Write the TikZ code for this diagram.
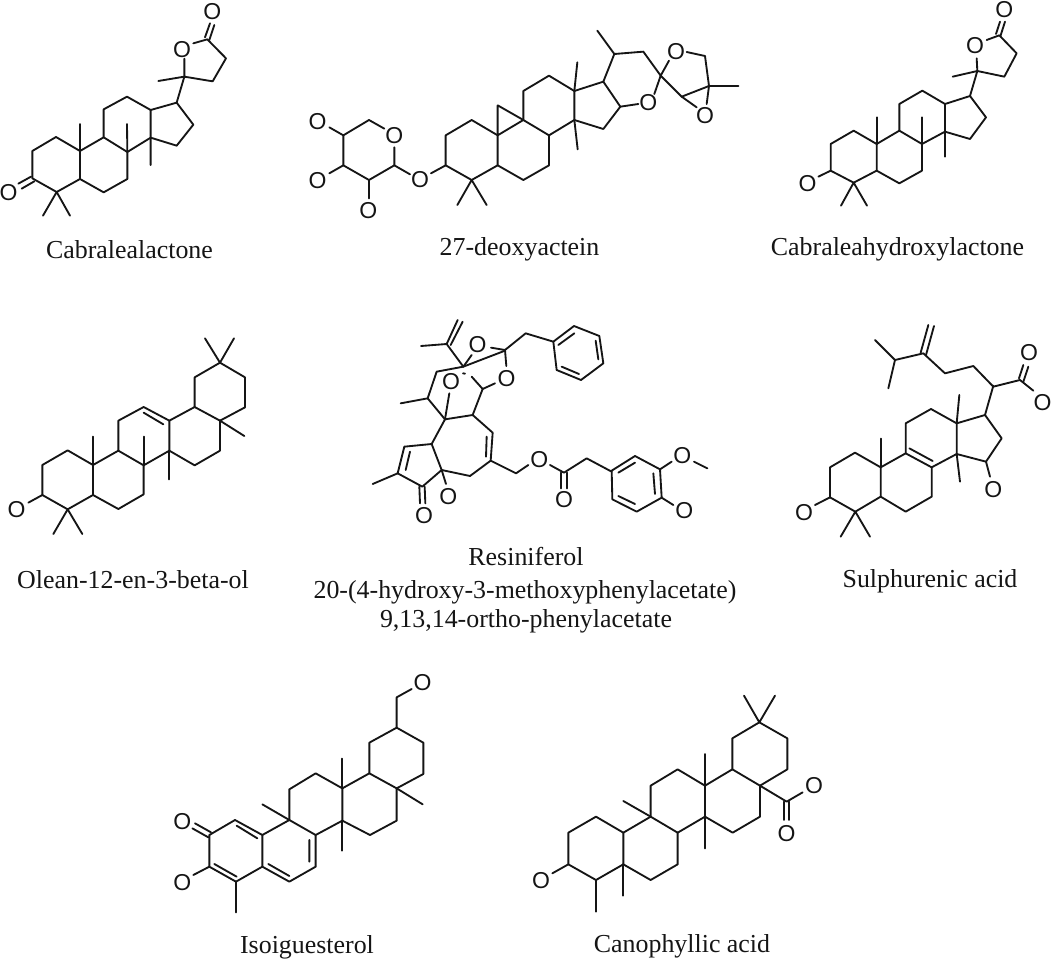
\documentclass[tikz,border=0pt]{standalone}
\usepackage{fontspec}
\setmainfont{Liberation Serif}
\newfontfamily\atomfont{Liberation Sans}
\tikzset{
  x=1pt,y=-1pt,
  bond/.style={draw=inkblack,line width=1.85pt,line join=round,line cap=round},
  atom/.style={inner sep=0pt,text=inkblack,font=\atomfont\fontsize{23}{23}\selectfont},
  caption/.style={anchor=base,inner sep=0pt,text=inkblack,font=\fontsize{25.9}{30}\selectfont},
  zoomed/.style={shift={#1},scale=0.33333}
}
\definecolor{inkblack}{HTML}{151515}
\begin{document}
\begin{tikzpicture}
\fill[white] (0,0) rectangle (1052,961);
\useasboundingbox (0,0) rectangle (1052,961);

% Cabralealactone
\begin{scope}[zoomed={(0,0)}]
\draw[bond] (97,453)--(168,411)--(240,453)--(240,537)--(170,576)--(97,535)--cycle;
\draw[bond] (93,530)--(55,551) (103,544)--(65,566);
\draw[bond] (129,647)--(170,576)--(210,647);
\draw[bond] (240,453)--(240,372);
\draw[bond] (240,453)--(311,412)--(382,456)--(382,537)--(311,577)--(240,537);
\draw[bond] (311,412)--(311,328)--(381,290)--(452,330)--(452,413)--(382,456);
\draw[bond] (382,456)--(381,372) (452,413)--(452,495);
\draw[bond] (452,330)--(530,308)--(580,374)--(530,437)--(452,413);
\draw[bond] (530,308)--(553,230)--(475,243);
\draw[bond] (553,176)--(553,230)--(638,244)--(678,175)--(622,118)--(580,130);
\draw[bond] (615,112)--(630,70) (628,120)--(643,75);
\node[atom] (a1) at (546,149) {O};
\node[atom] (a2) at (637,36) {O};
\node[atom] (a3) at (26,578) {O};
\end{scope}
\node[caption] (c1) at (129.5,258) {Cabralealactone};

% 27-deoxyactein
\begin{scope}[zoomed={(295,30)}]
\draw[bond] (103,292)--(145,316)--(222,270)--(268,296);
\draw[bond] (298,352)--(298,406)--(222,450)--(145,406)--(145,316);
\draw[bond] (145,406)--(103,430) (222,450)--(222,505) (298,406)--(345,433) (408,430)--(452,406);
\draw[bond] (452,406)--(452,316)--(530,270)--(608,316)--(608,406)--(530,450)--cycle;
\draw[bond] (487,525)--(530,450)--(575,525);
\draw[bond] (608,406)--(685,450)--(762,406)--(762,316)--(685,270)--(608,316)--(608,226)--(685,270);
\draw[bond] (685,270)--(685,183)--(762,137)--(838,183)--(838,270)--(762,316);
\draw[bond] (847,97)--(838,183) (838,270)--(848,358);
\draw[bond] (838,183)--(925,155)--(976,230)--(925,297)--(838,270);
\draw[bond] (976,230)--(1030,222) (1078,192)--(1097,137);
\draw[bond] (907,2)--(958,72);
\draw[bond] (925,155)--(958,72)--(1045,65)--(1097,137)--(1122,92);
\draw[bond] (1175,66)--(1230,78)--(1242,168)--(1160,200)--(1097,137);
\draw[bond] (1242,168)--(1330,168) (1242,168)--(1235,222) (1160,200)--(1205,232);
\node[atom] (b1) at (68,276) {O};
\node[atom] (b2) at (298,318) {O};
\node[atom] (b3) at (68,451) {O};
\node[atom] (b4) at (220,541) {O};
\node[atom] (b5) at (375,450) {O};
\node[atom] (b6) at (1060,218) {O};
\node[atom] (b7) at (1143,66) {O};
\node[atom] (b8) at (1230,258) {O};
\end{scope}
\node[caption] (c2) at (519.5,255) {27-deoxyactein};

% Cabraleahydroxylactone
\begin{scope}[zoomed={(760,0)}]
\draw[bond] (212,512)--(212,432)--(281,392)--(350,432)--(350,512)--(281,548)--cycle;
\draw[bond] (212,512)--(175,530);
\draw[bond] (243,617)--(281,548)--(321,617);
\draw[bond] (350,432)--(350,352);
\draw[bond] (350,432)--(418,392)--(486,432)--(486,512)--(418,550)--(350,512);
\draw[bond] (418,392)--(418,312)--(487,272)--(555,312)--(555,395)--(486,432);
\draw[bond] (486,432)--(486,352) (555,395)--(555,470);
\draw[bond] (555,312)--(630,288)--(678,352)--(630,417)--(555,395);
\draw[bond] (630,288)--(652,213)--(578,230);
\draw[bond] (650,175)--(652,213)--(733,230)--(770,160)--(718,106)--(680,120);
\draw[bond] (708,102)--(720,65) (722,106)--(735,65);
\node[atom] (d1) at (143,552) {O};
\node[atom] (d2) at (645,137) {O};
\node[atom] (d3) at (733,28) {O};
\end{scope}
\node[caption] (c3) at (897.5,255) {Cabraleahydroxylactone};

% Olean-12-en-3-beta-ol
\begin{scope}[zoomed={(0,330)}]
\draw[bond] (127,495)--(127,405)--(203,361)--(279,405)--(279,495)--(203,538)--cycle;
\draw[bond] (127,495)--(85,518);
\draw[bond] (160,612)--(203,538)--(247,612);
\draw[bond] (279,405)--(279,320);
\draw[bond] (279,405)--(355,362)--(431,406)--(431,493)--(355,537)--(279,495);
\draw[bond] (355,362)--(355,272)--(431,231)--(508,272)--(508,362)--(431,406);
\draw[bond] (431,248)--(490,283);
\draw[bond] (431,406)--(431,320) (508,362)--(508,448);
\draw[bond] (508,272)--(584,231)--(660,272)--(660,362)--(584,406)--(508,362);
\draw[bond] (584,231)--(584,142)--(660,98)--(735,142)--(735,232)--(660,272);
\draw[bond] (660,272)--(733,318);
\draw[bond] (615,25)--(660,98)--(702,25);
\node[atom] (e1) at (50,538) {O};
\end{scope}
\node[caption] (c4) at (133,588) {Olean-12-en-3-beta-ol};

% Resiniferol: core
\begin{scope}[zoomed={(360,330)}]
\draw[bond] (183,48)--(260,42)--(310,110)--(230,125)--(203,205)--(255,268);
\draw[bond] (203,205)--(122,220);
\draw[bond] (255,268)--(338,255)--(398,308)--(392,392)--(330,438)--(245,420)--(215,342)--cycle;
\draw[bond] (380,320)--(378,380);
\draw[bond] (255,268)--(268,190);
\draw[bond] (310,110)--(435,62);
\draw[bond] (338,255)--(368,177)--(405,160);
\draw[bond] (368,177)--(335,140);
\draw[bond] (309,130)--(315,131);
\draw[bond] (215,342)--(133,350)--(113,430)--(187,470)--(245,420);
\draw[bond] (150,365)--(137,420);
\draw[bond] (113,430)--(38,462);
\draw[bond] (178,470)--(180,520) (194,470)--(196,520);
\draw[bond] (245,420)--(258,462);
\draw[bond] (392,392)--(468,430)--(505,405);
\draw[bond] (570,405)--(612,428)--(680,385)--(755,425);
\draw[bond] (604,428)--(604,475) (620,428)--(620,475);
\node[atom] (f1) at (273,155) {O};
\node[atom] (f2) at (440,147) {O};
\node[atom] (f3) at (192,556) {O};
\node[atom] (f4) at (265,500) {O};
\node[atom] (f5) at (538,388) {O};
\node[atom] (f6) at (612,510) {O};
\end{scope}
% Resiniferol: top
\begin{scope}[zoomed={(430,300)}]
\draw[bond] (50,132)--(83,60) (62,135)--(98,65);
\draw[bond] (100,200)--(125,165) (183,143)--(225,150)--(229,198) (225,150)--(287,100)--(370,125);
\draw[bond] (370,125)--(380,210)--(453,240)--(520,190)--(508,108)--(432,78)--cycle;
\draw[bond] (385,135)--(433,100) (497,122)--(505,178) (395,200)--(447,222);
\node[atom] (f7) at (143,135) {O};
\end{scope}
% Resiniferol: phenylacetate ring
\begin{scope}[zoomed={(590,420)}]
\draw[bond] (65,152)--(67,238)--(140,275)--(215,233)--(210,148)--(135,108)--cycle;
\draw[bond] (85,158)--(135,128) (190,160)--(195,222) (85,228)--(135,252);
\draw[bond] (210,148)--(245,125) (312,125)--(352,145) (215,233)--(250,255);
\node[atom] (f8) at (277,107) {O};
\node[atom] (f9) at (283,273) {O};
\end{scope}
\node[caption] (c5a) at (526,565) {Resiniferol};
\node[caption] (c5b) at (525,598) {20-(4-hydroxy-3-methoxyphenylacetate)};
\node[caption] (c5c) at (526,627) {9,13,14-ortho-phenylacetate};

% Sulphurenic acid
\begin{scope}[zoomed={(770,340)}]
\draw[bond] (180,472)--(180,382)--(255,338)--(332,382)--(332,470)--(256,515)--cycle;
\draw[bond] (180,472)--(135,495);
\draw[bond] (212,590)--(256,515)--(300,590);
\draw[bond] (332,382)--(332,296);
\draw[bond] (332,382)--(407,340)--(485,382)--(485,470)--(407,515)--(332,470);
\draw[bond] (418,325)--(488,363);
\draw[bond] (407,340)--(407,250)--(483,207)--(560,250)--(560,342)--(485,382);
\draw[bond] (560,250)--(568,165) (560,342)--(570,425);
\draw[bond] (560,250)--(645,225)--(695,295)--(648,365)--(560,342);
\draw[bond] (648,365)--(660,410);
\draw[bond] (645,225)--(670,137);
\node[atom] (g1) at (102,517) {O};
\node[atom] (g2) at (670,450) {O};
\end{scope}
\begin{scope}[zoomed={(860,300)}]
\draw[bond] (480,240)--(400,260)--(340,198)--(255,220)--(190,160)--(105,180)--(45,120);
\draw[bond] (105,180)--(85,265);
\draw[bond] (182,158)--(205,75) (198,165)--(222,78);
\draw[bond] (480,240)--(520,272);
\draw[bond] (477,235)--(490,195) (490,245)--(505,200);
\node[atom] (g3) at (507,157) {O};
\node[atom] (g4) at (548,308) {O};
\end{scope}
\node[caption] (c6) at (930,587) {Sulphurenic acid};

% Isoiguesterol
\begin{scope}[zoomed={(130,660)}]
\draw[bond] (238,525)--(315,480)--(397,525)--(397,620)--(318,665)--(238,620)--cycle;
\draw[bond] (320,497)--(382,535) (253,612)--(320,650);
\draw[bond] (243,517)--(195,490) (235,532)--(187,505);
\draw[bond] (238,620)--(190,645);
\draw[bond] (318,665)--(318,757);
\draw[bond] (397,525)--(478,480)--(557,525)--(557,620)--(478,665)--(397,620);
\draw[bond] (538,540)--(538,605) (415,612)--(478,648);
\draw[bond] (478,480)--(397,433);
\draw[bond] (478,480)--(478,388)--(557,340)--(637,385)--(637,482)--(557,525);
\draw[bond] (637,385)--(637,296) (637,482)--(637,572);
\draw[bond] (637,385)--(718,340)--(800,385)--(800,482)--(720,525)--(637,482);
\draw[bond] (718,340)--(718,248)--(800,203)--(880,248)--(880,342)--(800,385);
\draw[bond] (800,385)--(878,433);
\draw[bond] (800,203)--(800,112)--(845,87);
\node[atom] (h1) at (157,484) {O};
\node[atom] (h2) at (157,667) {O};
\node[atom] (h3) at (878,67) {O};
\end{scope}
\node[caption] (c7) at (307,953) {Isoiguesterol};

% Canophyllic acid
\begin{scope}[zoomed={(520,670)}]
\draw[bond] (145,583)--(145,488)--(228,440)--(310,488)--(310,583)--(228,630)--cycle;
\draw[bond] (145,583)--(97,610);
\draw[bond] (228,630)--(228,725) (310,583)--(310,677);
\draw[bond] (310,488)--(392,440)--(473,488)--(473,583)--(392,630)--(310,583);
\draw[bond] (392,440)--(310,393);
\draw[bond] (392,440)--(392,347)--(473,298)--(555,347)--(555,440)--(473,488);
\draw[bond] (555,347)--(555,252) (555,440)--(555,535);
\draw[bond] (555,347)--(637,298)--(720,347)--(720,440)--(638,488)--(555,440);
\draw[bond] (637,298)--(637,205)--(718,157)--(802,205)--(802,298)--(720,347);
\draw[bond] (672,77)--(718,157)--(765,77);
\draw[bond] (720,347)--(800,395)--(848,367);
\draw[bond] (792,395)--(792,450) (808,395)--(808,450);
\node[atom] (i1) at (63,632) {O};
\node[atom] (i2) at (882,348) {O};
\node[atom] (i3) at (800,490) {O};
\end{scope}
\node[caption] (c8) at (682,952) {Canophyllic acid};
\end{tikzpicture}
\end{document}
